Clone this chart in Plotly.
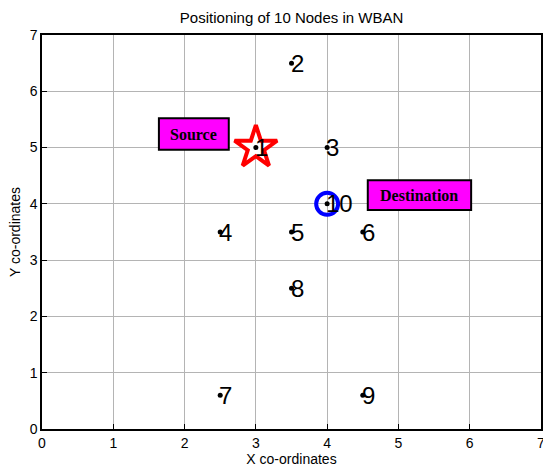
import plotly.graph_objects as go

# Node positions in the body area network
node_ids = [1, 2, 3, 4, 5, 6, 7, 8, 9, 10]
node_x = [3, 3.5, 4, 2.5, 3.5, 4.5, 2.5, 3.5, 4.5, 4]
node_y = [5, 6.5, 5, 3.5, 3.5, 3.5, 0.6, 2.5, 0.6, 4]

source_node = 1
dest_node = 10

# Label boxes (x0, x1, y0, y1) and their text
source_box = [1.64, 2.62, 4.96, 5.52]
dest_box = [4.57, 6.02, 3.89, 4.42]

x_ticks = [0, 1, 2, 3, 4, 5, 6, 7]
y_ticks = [0, 1, 2, 3, 4, 5, 6, 7]

FONT = "Liberation Sans, Arial"

fig = go.Figure()

si = node_ids.index(source_node)
di = node_ids.index(dest_node)

# source marker: red star
fig.add_trace(go.Scatter(
    x=[node_x[si]], y=[node_y[si]], mode="markers",
    marker=dict(symbol="star", size=32, color="white",
                line=dict(color="red", width=4)),
    hoverinfo="skip", showlegend=False))

# destination marker: blue ring
fig.add_trace(go.Scatter(
    x=[node_x[di]], y=[node_y[di]], mode="markers",
    marker=dict(symbol="circle-open", size=22, color="blue",
                line=dict(color="blue", width=4)),
    hoverinfo="skip", showlegend=False))

# all nodes as small black dots
fig.add_trace(go.Scatter(
    x=node_x, y=node_y, mode="markers",
    marker=dict(symbol="circle", size=5, color="black"),
    showlegend=False))

# node numbers beside each dot
for nid, x, y in zip(node_ids, node_x, node_y):
    fig.add_annotation(x=x, y=y, text=str(nid), showarrow=False,
                       xanchor="left", yanchor="middle", xshift=-3, yshift=0,
                       font=dict(family=FONT, size=24, color="black"))

for box, label in [(source_box, "Source"), (dest_box, "Destination")]:
    fig.add_shape(type="rect", xref="x", yref="y",
                  x0=box[0], x1=box[1], y0=box[2], y1=box[3],
                  fillcolor="#ff00ff", line=dict(color="black", width=2))
    fig.add_annotation(x=(box[0] + box[1]) / 2, y=(box[2] + box[3]) / 2,
                       text="<b>%s</b>" % label, showarrow=False,
                       font=dict(family="Liberation Serif, Times New Roman", size=16, color="black"))

axis_common = dict(
    range=[0, 7], tickvals=x_ticks, showgrid=True, gridcolor="#b4b4b4", gridwidth=1,
    showline=True, linecolor="black", linewidth=1.5, mirror=True,
    ticks="inside", ticklen=5, tickcolor="black", zeroline=False,
    ticklabeloverflow="allow", automargin=False,
    tickfont=dict(family=FONT, size=14, color="black"),
)

fig.update_layout(
    width=543, height=471,
    margin=dict(l=42, r=2, t=35, b=42),
    paper_bgcolor="white", plot_bgcolor="white",
    title=dict(text="Positioning of 10 Nodes in WBAN", x=0.537, xanchor="center",
               y=0.962, yanchor="middle",
               font=dict(family=FONT, size=15, color="black")),
    xaxis=dict(axis_common, title=dict(text="X co-ordinates", standoff=2,
               font=dict(family=FONT, size=14, color="black"))),
    yaxis=dict(axis_common, tickvals=y_ticks,
               title=dict(text="Y co-ordinates", standoff=6,
               font=dict(family=FONT, size=14, color="black"))),
)

fig.write_html("out.html")
